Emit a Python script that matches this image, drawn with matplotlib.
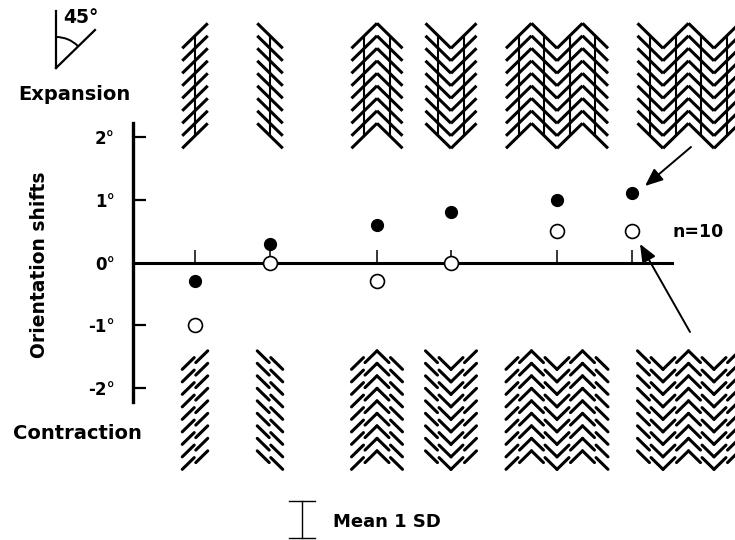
import numpy as np
import matplotlib
matplotlib.use('Agg')
import matplotlib.pyplot as plt
from matplotlib.collections import LineCollection
from matplotlib.patches import Arc

plt.rcParams['font.family'] = 'DejaVu Sans'
plt.rcParams['font.weight'] = 'bold'

# mean orientation shifts (deg) for the six stimulus configurations
conditions = ['single /', 'single \\', 'chevron ^', 'chevron v', 'zigzag ^v^', 'zigzag v^v']
shift_filled = [-0.3, 0.3, 0.6, 0.8, 1.0, 1.1]
shift_open = [-1.0, 0.0, -0.3, 0.0, 0.5, 0.5]
y_ticks = [-2, -1, 0, 1, 2]
y_ticklabels = ['-2°', '-1°', '0°', '1°', '2°']

# one row of each stimulus: (x, y) in units of half a line segment (y down)
shapes = {
    'single /': [(-1, 1), (1, -1)],
    'single \\': [(-1, -1), (1, 1)],
    'chevron ^': [(-2, 1), (0, -1), (2, 1)],
    'chevron v': [(-2, -1), (0, 1), (2, -1)],
    'zigzag ^v^': [(-4, 1), (-2, -1), (0, 1), (2, -1), (4, 1)],
    'zigzag v^v': [(-4, -1), (-2, 1), (0, -1), (2, 1), (4, -1)],
}

# layout, in pixels of the 735x540 figure
x_pos = [195, 270, 377, 451, 557, 632]
stim_x = [195, 270, 377, 451, 557, 688.5]
n_rows = 9
row_step = 12.5
unit_x, unit_y = 12.75, 12.5
top_y0 = 35.8
bot_y0 = 360.1
gap = 6.5

fig = plt.figure(figsize=(7.35, 5.4), dpi=100)

# ---- drawing layer in pixel units
art = fig.add_axes([0, 0, 1, 1])
art.set_xlim(0, 735)
art.set_ylim(540, 0)
art.axis('off')


def stimulus(name, cx, y0, contracted):
    pts = np.array(shapes[name], dtype=float) * [unit_x, unit_y]
    segs, verts = [], []
    for k in range(n_rows):
        cy = y0 + k * row_step
        p = pts + [cx, cy]
        for a, b in zip(p[:-1], p[1:]):
            m = (a + b) / 2
            if not contracted:
                segs.append([a, b])
                continue
            for end in (a, b):
                # upper half moves down, lower half moves up
                dy = gap / 2 if end[1] < m[1] else -gap / 2
                inner = m + (end - m) * 0.06
                segs.append([end + [0, dy], inner + [0, dy]])
    if not contracted:
        mids = (pts[:-1, 0] + pts[1:, 0]) / 2 + cx
        for mx in mids:
            verts.append([(mx, y0), (mx, y0 + (n_rows - 1) * row_step)])
    return segs, verts


for name, cx in zip(conditions, stim_x):
    segs, verts = stimulus(name, cx, top_y0, False)
    art.add_collection(LineCollection(segs, colors='k', linewidths=2.2,
                                      capstyle='butt', joinstyle='miter'))
    art.add_collection(LineCollection(verts, colors='k', linewidths=1.5))
    segs, _ = stimulus(name, cx, bot_y0, True)
    art.add_collection(LineCollection(segs, colors='k', linewidths=2.2,
                                      capstyle='round'))

# 45 deg icon
art.plot([56, 56], [10.7, 68], color='k', lw=1.6)
art.plot([56, 95], [68, 30], color='k', lw=1.6)
art.add_patch(Arc((56, 68), 62, 62, theta1=-90, theta2=-45, color='k', lw=1.4))
art.text(63, 23, '45°', fontsize=13.5, ha='left', va='baseline')

art.text(18, 100, 'Expansion', fontsize=14, ha='left', va='baseline')
art.text(13, 439, 'Contraction', fontsize=14, ha='left', va='baseline')
art.text(40, 265, 'Orientation shifts', fontsize=13.5, rotation=90,
         ha='center', va='center')
art.text(673, 237, 'n=10', fontsize=12.5, ha='left', va='baseline')

# SD legend
art.plot([301.7, 301.7], [500.7, 538.3], color='k', lw=1)
art.plot([289, 315], [500.7, 500.7], color='k', lw=1)
art.plot([289, 315], [538.3, 538.3], color='k', lw=1)
art.text(333, 526.7, 'Mean 1 SD', fontsize=13, ha='left', va='baseline')

arrow = dict(arrowstyle='-|>,head_length=0.6,head_width=0.25', color='k',
             lw=1.4, mutation_scale=18, shrinkA=0, shrinkB=0)
art.annotate('', xy=(645, 186), xytext=(691, 147), arrowprops=arrow)
art.annotate('', xy=(640, 244), xytext=(690, 332), arrowprops=arrow)

# ---- data axes
ax = fig.add_axes([133 / 735, (540 - 402) / 540, (672 - 133) / 735, (402 - 123) / 540])
ax.patch.set_visible(False)
ax.set_xlim(133, 672)
ax.set_ylim(-2.22, 2.22)
for s in ['top', 'right']:
    ax.spines[s].set_visible(False)
ax.spines['left'].set_linewidth(2.4)
ax.spines['bottom'].set_position(('data', 0))
ax.spines['bottom'].set_linewidth(2.2)

ax.set_yticks(y_ticks)
ax.set_yticklabels(y_ticklabels)
ax.tick_params(axis='y', direction='in', length=9.4, width=1.6, pad=13, labelsize=12)
ax.yaxis.get_major_ticks()[2].tick1line.set_visible(False)
ax.set_xticks(x_pos)
ax.tick_params(axis='x', direction='in', length=9.4, width=1.1, labelbottom=False)

ax.plot(x_pos, shift_filled, 'o', color='k', ms=8.5, zorder=3, clip_on=False)
ax.plot(x_pos, shift_open, 'o', mfc='white', mec='k', ms=10, mew=1.2,
        zorder=4, clip_on=False)

fig.savefig('out.png', dpi=100)
